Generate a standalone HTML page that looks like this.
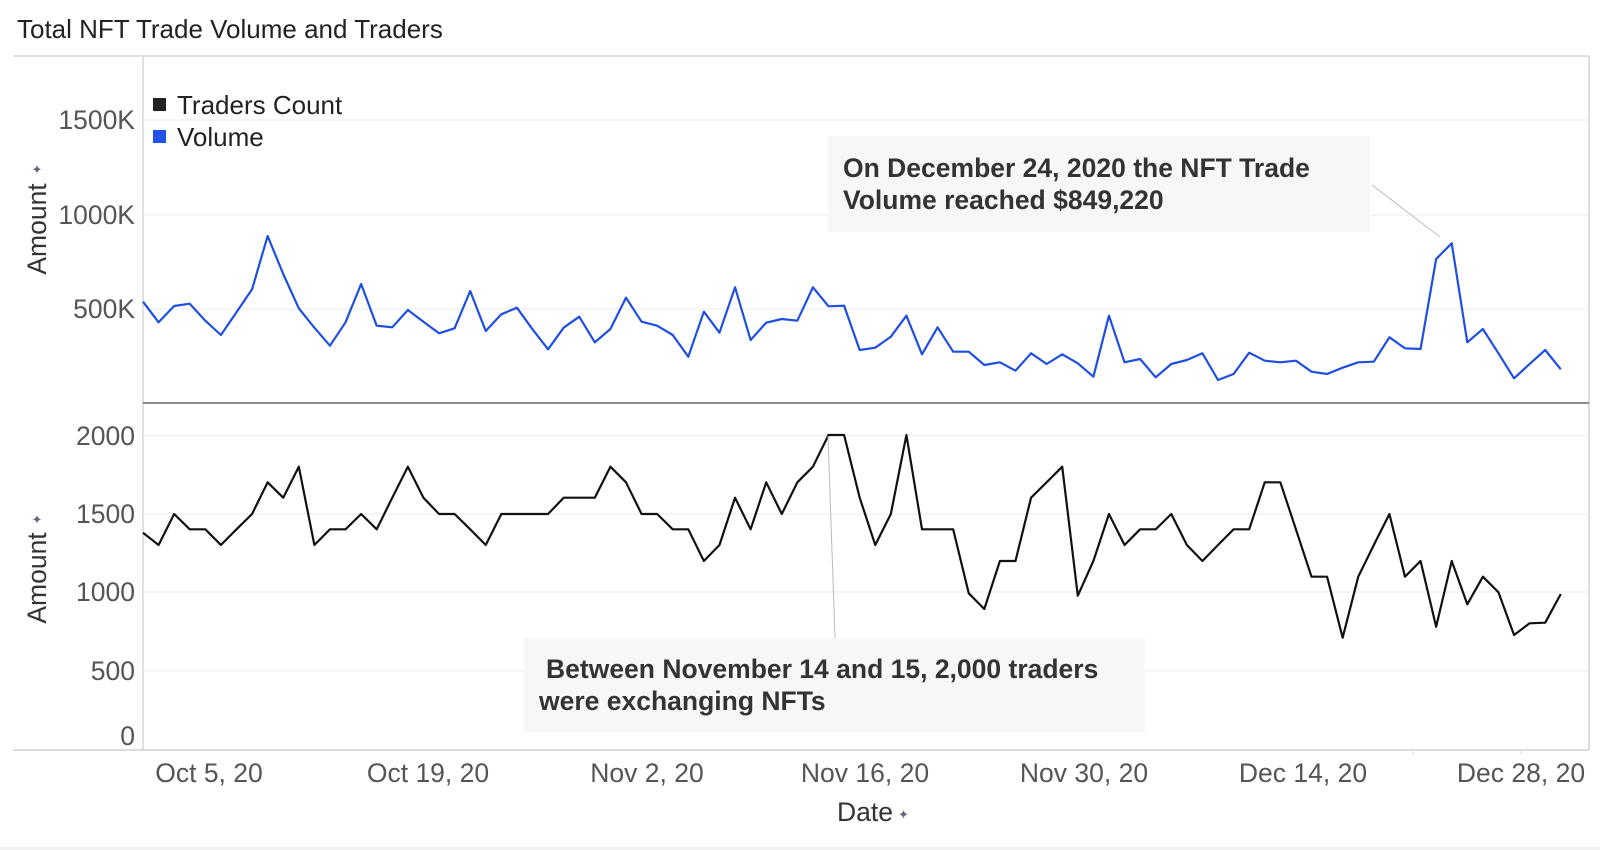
<!DOCTYPE html>
<html><head><meta charset="utf-8"><style>
html,body{margin:0;padding:0;background:#fff;width:1600px;height:850px;overflow:hidden}
svg text{font-family:"Liberation Sans",Arial,sans-serif}
</style></head><body>
<svg width="1600" height="850" viewBox="0 0 1600 850" xmlns="http://www.w3.org/2000/svg">
<rect x="0" y="847" width="1600" height="3" fill="#f2f2f2"/>
<text x="17" y="38" font-size="26" fill="#222">Total NFT Trade Volume and Traders</text>
<!-- frame -->
<line x1="13" y1="56" x2="1589" y2="56" stroke="#d8d8d8" stroke-width="1.5"/>
<line x1="1589" y1="56" x2="1589" y2="750" stroke="#d0d0d0" stroke-width="1.5"/>
<line x1="13" y1="750" x2="1589" y2="750" stroke="#d0d0d0" stroke-width="1.5"/>
<line x1="143" y1="56" x2="143" y2="750" stroke="#d6d6d6" stroke-width="1.5"/>
<!-- gridlines -->
<g stroke="#efefef" stroke-width="1.2">
<line x1="143" y1="120" x2="1589" y2="120"/><line x1="143" y1="215" x2="1589" y2="215"/><line x1="143" y1="309" x2="1589" y2="309"/>
<line x1="143" y1="435.5" x2="1589" y2="435.5"/><line x1="143" y1="514" x2="1589" y2="514"/><line x1="143" y1="592" x2="1589" y2="592"/><line x1="143" y1="671" x2="1589" y2="671"/>
</g>
<line x1="143" y1="403" x2="1589" y2="403" stroke="#666" stroke-width="1.5"/>
<g stroke="#ddd"><line x1="1413" y1="750" x2="1413" y2="755"/><line x1="1521" y1="750" x2="1521" y2="755"/></g>
<!-- y tick labels -->
<g font-size="26.5" fill="#555" text-anchor="end">
<text x="135" y="129">1500K</text><text x="135" y="224">1000K</text><text x="135" y="318">500K</text>
<text x="135" y="445">2000</text><text x="135" y="523">1500</text><text x="135" y="601">1000</text><text x="135" y="680">500</text><text x="135" y="745">0</text>
</g>
<!-- axis titles -->
<text transform="translate(46,229) rotate(-90)" font-size="26.5" fill="#333" text-anchor="middle">Amount</text>
<text transform="translate(46,578) rotate(-90)" font-size="26.5" fill="#333" text-anchor="middle">Amount</text>
<text x="37" y="174" font-size="13" fill="#667" text-anchor="middle">✦</text>
<text x="37" y="524" font-size="13" fill="#667" text-anchor="middle">✦</text>
<!-- x labels -->
<g font-size="26.5" fill="#555" text-anchor="middle">
<text x="209" y="782">Oct 5, 20</text><text x="428" y="782">Oct 19, 20</text><text x="647" y="782">Nov 2, 20</text><text x="865" y="782">Nov 16, 20</text><text x="1084" y="782">Nov 30, 20</text><text x="1303" y="782">Dec 14, 20</text><text x="1521" y="782">Dec 28, 20</text>
</g>
<text x="865" y="821" font-size="26.5" fill="#333" text-anchor="middle">Date</text>
<text x="898" y="819" font-size="13" fill="#667">✦</text>
<!-- legend -->
<rect x="153" y="98" width="13" height="13" fill="#222"/>
<text x="177" y="114" font-size="26" fill="#222">Traders Count</text>
<rect x="153" y="130" width="13" height="13" fill="#2352e6"/>
<text x="177" y="146" font-size="26" fill="#222">Volume</text>
<!-- series -->
<g transform="translate(143,0) scale(15.58,1)" fill="none">
<polyline vector-effect="non-scaling-stroke" stroke="#1f4fe0" stroke-width="2.2" stroke-linejoin="round" points="0,301.7 1,322.3 2,306 3,303.7 4,320.7 5,335 6,312.3 7,289.3 8,236 9,274 10,308.3 11,327.7 12,345.7 13,322.3 14,284 15,325.7 16,327.3 17,310 18,321.7 19,333.3 20,328.3 21,291 22,331 23,314.3 24,307.7 25,329.3 26,349.3 27,327.7 28,316.7 29,342.3 30,329 31,297.7 32,321.7 33,325.7 34,335 35,356.7 36,311.7 37,332.7 38,287.3 39,340 40,322.7 41,319 42,320.7 43,287.3 44,306.3 45,305.7 46,350 47,347.7 48,336.7 49,315.7 50,354.3 51,327.3 52,351.7 53,351.7 54,365 55,362.3 56,370.7 57,353.3 58,364 59,354.3 60,363.3 61,376.7 62,315.7 63,362.3 64,359 65,377.3 66,364 67,360 68,353.3 69,380 70,374 71,352.7 72,360.7 73,362.3 74,360.7 75,371.7 76,374 77,367.7 78,362.3 79,361.7 80,337.3 81,348.3 82,349 83,259 84,243.3 85,342.3 86,329 87,353.3 88,378.3 89,364 90,350 91,369.3"/>
<polyline vector-effect="non-scaling-stroke" stroke="#111" stroke-width="2.2" stroke-linejoin="round" points="0,532.7 1,545 2,514 3,529.3 4,529.3 5,545 6,529.3 7,514 8,482.3 9,497.7 10,466.7 11,545 12,529.3 13,529.3 14,514 15,529.3 16,497.7 17,466.7 18,497.7 19,514 20,514 21,529.3 22,545 23,514 24,514 25,514 26,514 27,497.7 28,497.7 29,497.7 30,466.7 31,482.3 32,514 33,514 34,529.3 35,529.3 36,561 37,545 38,497.7 39,529.3 40,482.3 41,514 42,482.3 43,466.7 44,435 45,435 46,497.7 47,545 48,514 49,435 50,529.3 51,529.3 52,529.3 53,593.3 54,609 55,561 56,561 57,497.7 58,482.3 59,466.7 60,595.7 61,561 62,514 63,545 64,529.3 65,529.3 66,514 67,545 68,561 69,545 70,529.3 71,529.3 72,482.3 73,482.3 74,529.3 75,576.7 76,576.7 77,637.7 78,576.7 79,545 80,514 81,576.7 82,561 83,626.7 84,561 85,604.3 86,576.7 87,592.3 88,635 89,623.3 90,622.7 91,594"/>
</g>
<!-- annotations -->
<line x1="1372" y1="185" x2="1440" y2="237" stroke="#bbb" stroke-width="1"/>
<rect x="828" y="136" width="542" height="96" fill="#f7f7f7"/>
<g font-size="26.5" font-weight="bold" fill="#333">
<text x="843" y="177">On December 24, 2020 the NFT Trade</text>
<text x="843" y="209">Volume reached $849,220</text>
</g>
<line x1="828" y1="436" x2="835" y2="638" stroke="#bbb" stroke-width="1"/>
<rect x="524" y="638" width="621" height="94" fill="#f7f7f7"/>
<g font-size="26.5" font-weight="bold" fill="#333">
<text x="546" y="678">Between November 14 and 15, 2,000 traders</text>
<text x="539" y="710">were exchanging NFTs</text>
</g>
</svg>
</body></html>
